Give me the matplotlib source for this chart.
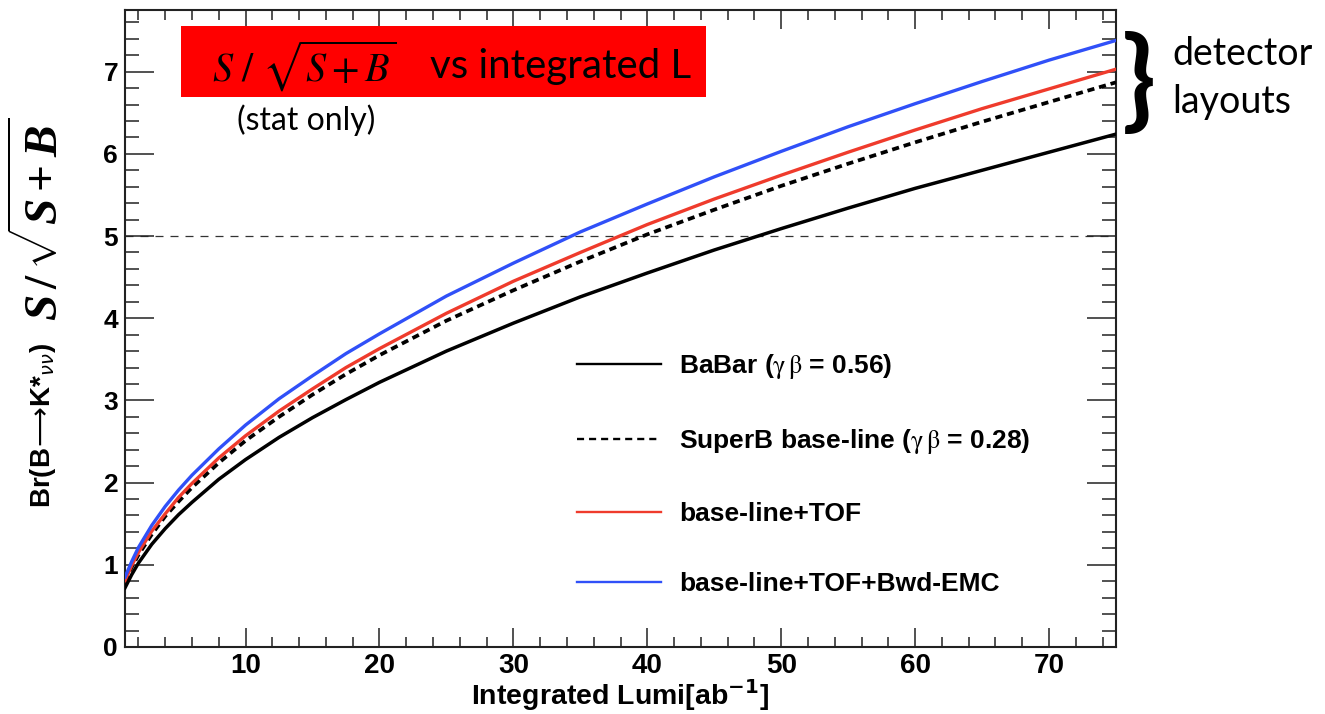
import matplotlib
matplotlib.use("Agg")
import matplotlib.pyplot as plt
from matplotlib.patches import Rectangle
from matplotlib.ticker import MultipleLocator

# Integrated luminosity [ab^-1] and S/sqrt(S+B) for each detector layout
lumi = [1, 1.5, 2, 3, 4, 5, 6, 8, 10, 12.5, 15, 17.5, 20, 25, 30, 35, 40,
        45, 50, 55, 60, 65, 70, 75]
babar = [0.72, 0.88, 1.02, 1.25, 1.44, 1.61, 1.76, 2.04, 2.28, 2.55, 2.79,
         3.01, 3.22, 3.60, 3.94, 4.26, 4.55, 4.83, 5.09, 5.34, 5.58, 5.80,
         6.02, 6.24]
superb = [0.79, 0.97, 1.12, 1.37, 1.59, 1.77, 1.94, 2.24, 2.51, 2.80, 3.07,
          3.32, 3.55, 3.97, 4.34, 4.69, 5.02, 5.32, 5.61, 5.88, 6.14, 6.39,
          6.63, 6.87]
tof = [0.81, 0.99, 1.15, 1.41, 1.62, 1.82, 1.99, 2.30, 2.57, 2.87, 3.14,
       3.40, 3.63, 4.06, 4.45, 4.80, 5.14, 5.45, 5.74, 6.02, 6.29, 6.55,
       6.79, 7.03]
tof_emc = [0.85, 1.04, 1.21, 1.48, 1.71, 1.91, 2.09, 2.41, 2.70, 3.02, 3.30,
           3.57, 3.81, 4.27, 4.67, 5.05, 5.39, 5.72, 6.03, 6.33, 6.61, 6.88,
           7.14, 7.38]

labels = [r"BaBar ($\mathrm{\gamma\,\beta}$ = 0.56)",
          r"SuperB base-line ($\mathrm{\gamma\,\beta}$ = 0.28)",
          "base-line+TOF",
          "base-line+TOF+Bwd-EMC"]
discovery_level = 5.0
x_ticks = [10, 20, 30, 40, 50, 60, 70]
y_ticks = [0, 1, 2, 3, 4, 5, 6, 7]

plt.rcParams["mathtext.fontset"] = "custom"
plt.rcParams["mathtext.it"] = "Liberation Serif:italic:bold"
plt.rcParams["mathtext.rm"] = "Liberation Serif:bold"
plt.rcParams["mathtext.bf"] = "Liberation Serif:bold"

W, H = 1325, 714
fig = plt.figure(figsize=(W / 100, H / 100), dpi=100)
ax = fig.add_axes([125 / W, (H - 647) / H, (1116 - 125) / W, (647 - 10) / H])

sans_bold = dict(family=["Liberation Sans", "DejaVu Sans"], weight="bold")

ax.axhline(discovery_level, color="#333333", lw=0.9, ls=(0, (6.4, 5.6)), zorder=1)

ax.plot(lumi, babar, color="black", lw=2.5, label=labels[0], zorder=3)
ax.plot(lumi, superb, color="black", lw=2.7, ls=(0, (1.9, 1.3)),
        label=labels[1], zorder=3)
ax.plot(lumi, tof, color="#ef3b2c", lw=2.4, label=labels[2], zorder=3)
ax.plot(lumi, tof_emc, color="#3050f8", lw=2.4, label=labels[3], zorder=3)

ax.set_xlim(1, 75)
ax.set_ylim(0, 7.75)
ax.set_xticks(x_ticks)
ax.set_yticks(y_ticks)
ax.xaxis.set_minor_locator(MultipleLocator(2))
ax.yaxis.set_minor_locator(MultipleLocator(0.2))
ax.tick_params(axis="both", which="both", direction="in", top=True,
               right=True, width=1.1, color="#222222")
ax.tick_params(axis="x", which="major", length=14, pad=4)
ax.tick_params(axis="x", which="minor", length=7)
ax.tick_params(axis="y", which="major", length=21, pad=5)
ax.tick_params(axis="y", which="minor", length=10)
for t in ax.get_xticklabels():
    t.set_fontfamily(["Liberation Sans", "DejaVu Sans"])
    t.set_fontweight("bold")
    t.set_fontsize(20)
for t in ax.get_yticklabels():
    t.set_fontfamily(["Liberation Sans", "DejaVu Sans"])
    t.set_fontweight("bold")
    t.set_fontsize(19)
for s in ax.spines.values():
    s.set_linewidth(1.5)
    s.set_color("#222222")

ax.set_xlabel(r"Integrated Lumi[ab$^{\mathbf{-1}}$]", fontsize=20.5,
              labelpad=-1, math_fontfamily="dejavusans", **sans_bold)

# Legend
leg = ax.legend(loc="upper left", bbox_to_anchor=(577 / W, 1 - 352 / H),
                bbox_transform=fig.transFigure, frameon=False, borderpad=0,
                borderaxespad=0, handlelength=3.2, handletextpad=0.66,
                labelspacing=1.74, prop=dict(family="Liberation Sans",
                                             weight="bold", size=19))
for t in leg.get_texts():
    t.set_math_fontfamily("stix")
for ln in leg.get_lines():
    ln.set_linewidth(1.7)
leg.get_lines()[1].set_linestyle((0, (3.0, 2.1)))

# Y axis title in two parts
fig.text(43 / W, 1 - 425 / H, r"Br(B$\!\longrightarrow\!$K*$_{\nu\nu}$)",
         rotation=90, ha="center", va="center", fontsize=20,
         math_fontfamily="dejavusans", **sans_bold)
fig.text(41 / W, 1 - 219 / H, r"$S\,/\,\sqrt{S+B}$", rotation=90,
         ha="center", va="center", fontsize=34, math_fontfamily="custom")

# Title banner
fig.patches.append(Rectangle((181 / W, 1 - 97 / H), (706 - 181) / W, 71 / H,
                             transform=fig.transFigure, facecolor="#ff0000",
                             edgecolor="none", zorder=5))
fig.text(212 / W, 1 - 82 / H, r"$S\ /\ \sqrt{S+B}$", ha="left",
         va="baseline", fontsize=29, math_fontfamily="stix", zorder=6)
fig.text(430 / W, 1 - 78 / H, "vs integrated L", ha="left", va="baseline",
         fontsize=29, family="Lato", zorder=6)
fig.text(306 / W, 1 - 130 / H, "(stat only)", ha="center", va="baseline",
         fontsize=23, family="Lato")

# Detector layout group annotation
fig.text(1139 / W, 1 - 84 / H, "}", ha="center", va="center", fontsize=80,
         family="Lato", fontweight="bold")
fig.text(1172 / W, 1 - 65 / H, "detector", ha="left", va="baseline",
         fontsize=27, family="Lato")
fig.text(1172 / W, 1 - 113 / H, "layouts", ha="left", va="baseline",
         fontsize=27, family="Lato")

fig.savefig("out.png", dpi=100)
